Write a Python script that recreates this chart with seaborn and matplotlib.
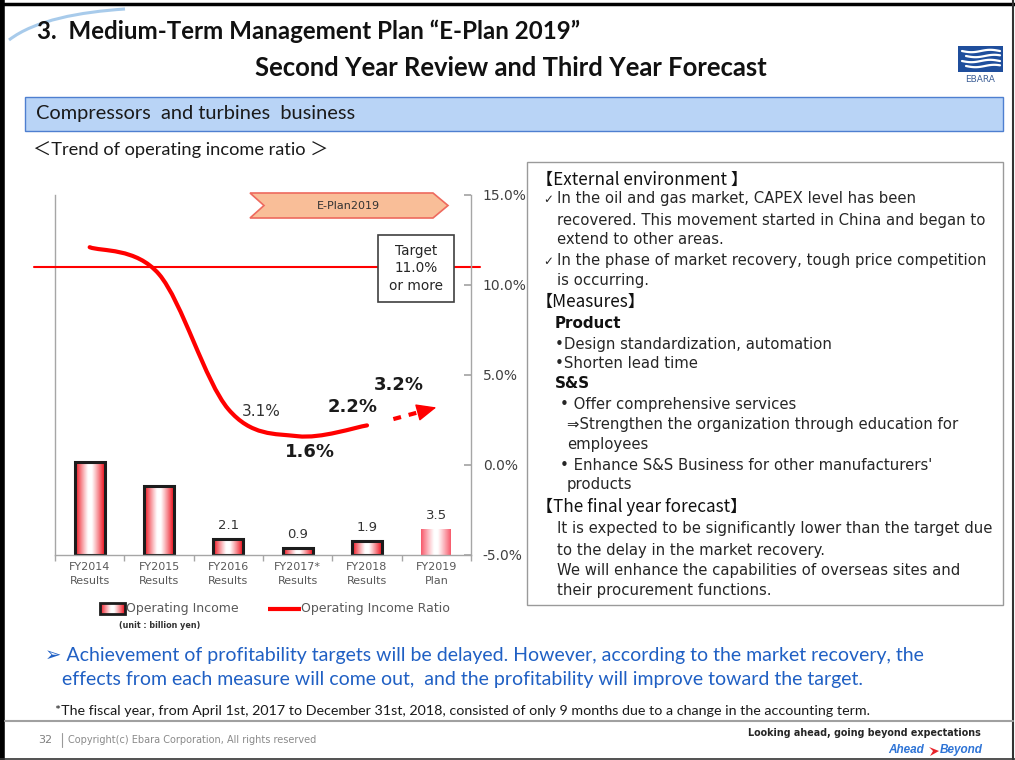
import numpy as np
import pandas as pd
import matplotlib
matplotlib.use("Agg")
import matplotlib.pyplot as plt
import seaborn as sns
from matplotlib.patches import Rectangle, Polygon, PathPatch
from matplotlib.path import Path
from matplotlib.ticker import FuncFormatter

# ---------------- data ----------------
categories = ["FY2014\nResults", "FY2015\nResults", "FY2016\nResults",
              "FY2017*\nResults", "FY2018\nResults", "FY2019\nPlan"]
operating_income = [12.4, 9.2, 2.1, 0.9, 1.9, 3.5]          # billion yen
income_labels = ["", "", "2.1", "0.9", "1.9", "3.5"]
income_ratio = [12.1, 10.6, 3.1, 1.6, 2.2]                   # FY2014-FY2018 results (%)
ratio_plan = 3.2                                             # FY2019 plan (%)
ratio_labels = ["3.1%", "1.6%", "2.2%", "3.2%"]              # FY2016..FY2019
target_ratio = 11.0
ratio_ticks = [-5.0, 0.0, 5.0, 10.0, 15.0]

# ---------------- figure ----------------
W, H = 1015, 760
sns.set_theme(style="white")
plt.rcParams['font.family'] = ['DejaVu Sans']
plt.rcParams['axes.unicode_minus'] = False
fig = plt.figure(figsize=(W / 100, H / 100), dpi=100)
fig.patch.set_facecolor('white')
renderer = fig.canvas.get_renderer()

bg = fig.add_axes([0, 0, 1, 1], label='bg', zorder=0)
fg = fig.add_axes([0, 0, 1, 1], label='fg', zorder=10)
for a in (bg, fg):
    a.set_xlim(0, W)
    a.set_ylim(H, 0)
    a.axis('off')
    a.patch.set_alpha(0)


def fit_text(a, x, y, s, width, size=12, **kw):
    t = a.text(x, y, s, fontsize=size, **kw)
    bb = t.get_window_extent(renderer=renderer)
    t.set_fontsize(size * width / bb.width)
    return t.get_fontsize()


def grad_rgb(edge_rgb, n=80):
    t = np.linspace(0, 1, n)
    v = np.abs(2 * t - 1)
    w = np.clip((v - 0.12) / 0.88, 0, 1) ** 1.1
    rgb = (1 - w)[:, None] * np.ones(3) + w[:, None] * np.array(edge_rgb)
    return rgb[None, :, :]


RED = (0.93, 0.05, 0.10)
PLAN_RED = (0.97, 0.35, 0.42)

# ---------------- slide decoration ----------------
bg.plot([2.5, 2.5], [0, H], color='black', lw=4, solid_capstyle='butt')
bg.plot([0, W], [3.5, 3.5], color='black', lw=2.5, solid_capstyle='butt')
bg.plot([1013, 1013], [0, H], color='#333333', lw=1.5)
bg.plot([0, W], [758.5, 758.5], color='#333333', lw=1.2)
sw = Path([(9, 40), (35, 20), (80, 12), (125, 9)], [Path.MOVETO, Path.CURVE4, Path.CURVE4, Path.CURVE4])
bg.add_patch(PathPatch(sw, fill=False, edgecolor='#A8CBEB', lw=2.2))

fit_text(bg, 37, 31, "3.  Medium-Term Management Plan \u201cE-Plan 2019\u201d", 540,
         family=['Lato', 'DejaVu Sans'], weight='bold', va='center', color='#111111')
fit_text(bg, 255, 68, "Second Year Review and Third Year Forecast", 511,
         family=['Lato', 'DejaVu Sans'], weight='bold', va='center', color='#111111')

# logo
bg.add_patch(Rectangle((958, 46), 45, 26, facecolor='#1F4E9C', edgecolor='none'))
for yy, x0 in [(51, 962), (56, 966), (61, 962), (66, 966)]:
    xs_ = np.linspace(x0, 1000, 20)
    bg.plot(xs_, yy + 1.2 * np.sin((xs_ - x0) / 6.0), color='white', lw=1.6)
bg.text(980.5, 79, "EBARA", ha='center', va='center', fontsize=6.5, color='#3C5E96',
        family=['Liberation Sans Narrow', 'DejaVu Sans'])

bg.add_patch(Rectangle((25, 97), 978, 34, facecolor='#B9D4F6', edgecolor='#4E7FD0', lw=1))
fit_text(bg, 36, 114, "Compressors  and turbines  business", 318,
         family=['Lato', 'DejaVu Sans'], va='center', color='#1a1a1a')
fit_text(bg, 33, 150, "\uff1cTrend of operating income ratio \uff1e", 295,
         family=['Lato', 'Noto Sans CJK JP', 'DejaVu Sans'], va='center', color='#1a1a1a')

# ---------------- chart ----------------
L, R, T, B = 55, 471, 195, 555
ax = fig.add_axes([L / W, 1 - B / H, (R - L) / W, (B - T) / H], zorder=5)
ax.patch.set_alpha(0)
df = pd.DataFrame({"category": categories, "income": operating_income})
sns.barplot(data=df, x="category", y="income", ax=ax, width=0.43, color="white",
            edgecolor="#1c1c1c", linewidth=2.2, saturation=1, errorbar=None)
bars = list(ax.patches)
for i, p in enumerate(bars):
    x0, w, h = p.get_x(), p.get_width(), p.get_height()
    plan = (i == len(bars) - 1)
    im = ax.imshow(grad_rgb(PLAN_RED if plan else RED), extent=(x0, x0 + w, 0, h),
                   aspect='auto', interpolation='bilinear', zorder=1)
    im.set_clip_path(p)
    p.set_facecolor('none')
    p.set_zorder(2)
    if plan:
        p.set_edgecolor('none')
        p.set_linewidth(0)
    if income_labels[i]:
        ax.annotate(income_labels[i], (x0 + w / 2, h), xytext=(0, 5), textcoords='offset points',
                    ha='center', va='bottom', fontsize=9.5, color='#333333')
ax.set_xlim(-0.5, 5.5)
ax.set_ylim(0, 48)
ax.set_xlabel("")
ax.set_ylabel("")
ax.set_yticks([])
ax.grid(False)
ax.set_xticks(np.arange(-0.5, 6, 1), minor=True)
ax.tick_params(axis='x', which='major', length=0, pad=5, labelsize=8, labelcolor='#595959')
ax.tick_params(axis='x', which='minor', bottom=True, length=4, color='#A6A6A6', width=1, direction='out')
for s in ['top', 'right']:
    ax.spines[s].set_visible(False)
for s in ['left', 'bottom']:
    ax.spines[s].set_color('#A6A6A6')
    ax.spines[s].set_linewidth(1)
for lab in ax.get_xticklabels():
    lab.set_linespacing(1.55)

ax2 = ax.twinx()
ax2.set_ylim(-5, 15)
ax2.set_yticks(ratio_ticks)
ax2.yaxis.set_major_formatter(FuncFormatter(lambda v, p: f"{v:.1f}%"))
ax2.tick_params(axis='y', right=True, direction='in', length=5, color='#A6A6A6',
                labelsize=10, labelcolor='#404040', pad=8.5)
for s in ['top', 'left', 'bottom']:
    ax2.spines[s].set_visible(False)
ax2.spines['right'].set_color('#A6A6A6')
ax2.spines['right'].set_linewidth(1)
ax2.grid(False)

# smoothed ratio line (results)
pts = np.column_stack([np.arange(len(income_ratio), dtype=float), income_ratio])
ext = np.vstack([pts[0], pts, pts[-1]])
verts = [tuple(pts[0])]
codes = [Path.MOVETO]
for i in range(len(pts) - 1):
    a_, b_, c_, d_ = ext[i], ext[i + 1], ext[i + 2], ext[i + 3]
    verts += [tuple(b_ + (c_ - a_) / 6), tuple(c_ - (d_ - b_) / 6), tuple(c_)]
    codes += [Path.CURVE4] * 3
ax2.add_patch(PathPatch(Path(verts, codes), fill=False, edgecolor='#FF0000', lw=3,
                        capstyle='round', joinstyle='round', zorder=3))

# dashed forecast arrow: dashed shaft + solid head
n = len(income_ratio)
tip = np.array([n, ratio_plan], dtype=float)
start = np.array([n - 1 + 0.38, 2.55])
tr = ax2.transData
p_start, p_tip = tr.transform(start), tr.transform(tip)
seg = p_tip - p_start
head_px = 17.0
p_base = p_tip - seg / np.hypot(*seg) * head_px
base = tr.inverted().transform(p_base)
ax2.plot([start[0], base[0]], [start[1], base[1]], color='#FF0000', lw=3,
         linestyle=(0, (1.9, 1.9)), dash_capstyle='butt', zorder=3)
ax2.annotate("", xy=tuple(tip), xytext=tuple(base),
             arrowprops=dict(arrowstyle='-|>,head_length=0.78,head_width=0.34', mutation_scale=16,
                             color='#FF0000', lw=1, shrinkA=0, shrinkB=0))

# target line
ax2.axhline(target_ratio, xmin=(34 - L) / (R - L), xmax=(480 - L) / (R - L), clip_on=False,
            color='#FF0000', lw=1.5, zorder=2)
# ratio labels
lab_pts = [(2, income_ratio[2]), (3, income_ratio[3]), (4, income_ratio[4]), (5, ratio_plan)]
lab_off = [(24, -2), (9, -11.5), (-10, 13), (-27, 16)]
lab_w = ['normal', 'bold', 'bold', 'bold']
lab_s = [11, 13, 13, 13]
for txt, pt, off, wt, sz in zip(ratio_labels, lab_pts, lab_off, lab_w, lab_s):
    ax2.annotate(txt, pt, xytext=off, textcoords='offset points', ha='center', va='center',
                 fontsize=sz, weight=wt, color='#1a1a1a' if wt == 'bold' else '#333333')

# E-Plan chevron
bg.add_patch(Polygon([(250, 193), (433, 193), (448, 205.5), (433, 218), (250, 218), (264, 205.5)],
                     closed=True, facecolor='#F9BE98', edgecolor='#EE6A5E', lw=1.2))
bg.text(348, 206, "E-Plan2019", ha='center', va='center', fontsize=8, color='#333333')

# target box
fg.add_patch(Rectangle((378, 235), 76, 67, facecolor='white', edgecolor='#404040', lw=1.2))
fg.text(416, 268.5, "Target\n11.0%\nor more", ha='center', va='center', fontsize=9.8,
        color='#262626', linespacing=1.32)

# legend
bg.imshow(grad_rgb(RED), extent=(100, 125, 614, 603), aspect='auto', interpolation='bilinear', zorder=1)
bg.add_patch(Rectangle((100, 603), 25, 11, facecolor='none', edgecolor='#1c1c1c', lw=2, zorder=2))
bg.text(126, 608.5, "Operating Income", va='center', fontsize=9, color='#595959')
bg.plot([268, 301], [608.5, 608.5], color='#FF0000', lw=3, solid_capstyle='butt')
bg.text(301, 608.5, "Operating Income Ratio", va='center', fontsize=9, color='#595959')
bg.text(160, 625, "(unit : billion yen)", ha='center', va='center', fontsize=5.8, color='#333333',
        weight='bold')
bg.set_xlim(0, W)
bg.set_ylim(H, 0)

# ---------------- right text box ----------------
bg.add_patch(Rectangle((527, 162), 476, 443, facecolor='white', edgecolor='#9A9A9A', lw=1))
head_kw = dict(family=['Noto Sans CJK JP', 'DejaVu Sans'], va='center', color='#111111')
hs = fit_text(bg, 536, 180, "\u3010External environment \u3011", 211, **head_kw)
body_kw = dict(va='center', color='#262626')
bs = fit_text(bg, 557, 528, "It is expected to be significantly lower than the target due", 431, **body_kw)

for y in (199, 261):
    bg.text(543, y, "\u2713", fontsize=bs * 0.8, **body_kw)
body_lines = [
    (557, 199, "In the oil and gas market, CAPEX level has been"),
    (557, 220, "recovered. This movement started in China and began to"),
    (557, 240, "extend to other areas."),
    (557, 261, "In the phase of market recovery, tough price competition"),
    (557, 281, "is occurring."),
    (555, 344, "\u2022Design standardization, automation"),
    (555, 364, "\u2022Shorten lead time"),
    (560, 405, "\u2022 Offer comprehensive services"),
    (567, 425, "\u21d2Strengthen the organization through education for"),
    (567, 445, "employees"),
    (560, 465, "\u2022 Enhance S&S Business for other manufacturers'"),
    (567, 485, "products"),
    (557, 550, "to the delay in the market recovery."),
    (557, 570, "We will enhance the capabilities of overseas sites and"),
    (557, 590, "their procurement functions."),
]
for x, y, s in body_lines:
    bg.text(x, y, s, fontsize=bs, **body_kw)
for x, y, s in [(555, 324, "Product"), (555, 384, "S&S")]:
    bg.text(x, y, s, fontsize=bs * 1.02, weight='bold', va='center', color='#111111')
for x, y, s in [(536, 302, "\u3010Measures\u3011"), (536, 507, "\u3010The final year forecast\u3011")]:
    bg.text(x, y, s, fontsize=hs, **head_kw)

# ---------------- bottom texts ----------------
blue_kw = dict(family=['Lato', 'DejaVu Sans'], va='center', color='#2060C4')
fs = fit_text(bg, 45, 655, "\u27a2 Achievement of profitability targets will be delayed. However, according to the market recovery, the",
              878, **blue_kw)
bg.text(62, 680, "effects from each measure will come out,  and the profitability will improve toward the target.",
        fontsize=fs, **blue_kw)
fit_text(bg, 55, 711, "*The fiscal year, from April 1st, 2017 to December 31st, 2018, consisted of only 9 months due to a change in the accounting term.",
         815, family=['Lato', 'DejaVu Sans'], va='center', color='#1a1a1a')
bg.plot([5, 1013], [721, 721], color='#A0A0A0', lw=1.5)
bg.text(38, 740, "32", va='center', fontsize=8, color='#7F7F7F')
bg.plot([62, 62], [733, 747], color='#9A9A9A', lw=0.8)
fit_text(bg, 68, 740, "Copyright(c) Ebara Corporation, All rights reserved", 247, va='center', color='#8A8A8A')
fit_text(bg, 748, 733, "Looking ahead, going beyond expectations", 232,
         family=['Liberation Sans Narrow', 'DejaVu Sans'], weight='bold', va='center', color='#262626')
bg.text(888, 750, "Ahead", va='center', fontsize=8.5, style='italic', weight='bold', color='#2E74D6',
        family=['Liberation Sans', 'DejaVu Sans'])
bg.add_patch(Polygon([(929, 747), (939, 751), (930, 756), (933, 751)], closed=True,
                     facecolor='#E8232A', edgecolor='none'))
bg.text(940, 750, "Beyond", va='center', fontsize=8.5, style='italic', weight='bold', color='#2E74D6',
        family=['Liberation Sans', 'DejaVu Sans'])

fig.savefig("out.png", dpi=100, facecolor='white')
